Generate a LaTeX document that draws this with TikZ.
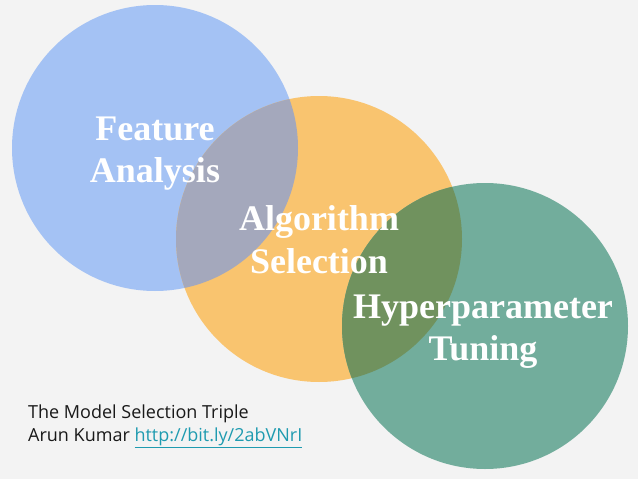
\documentclass[tikz,border=0pt]{standalone}
\usepackage{fontspec}
\setmainfont{Liberation Serif}
\newfontfamily\captionfont{Open Sans}
\definecolor{bgc}{HTML}{F3F3F3}
\definecolor{bluec}{HTML}{A4C2F4}
\definecolor{orangec}{HTML}{F9C46F}
\definecolor{greenc}{HTML}{72AD9C}
\definecolor{boc}{HTML}{A4A8BC}
\definecolor{ogc}{HTML}{70925E}
\definecolor{linkc}{HTML}{1F9BB0}
\tikzset{
  bigtext/.style={text=white,font=\fontsize{36}{40}\selectfont\bfseries,anchor=base,inner sep=0pt},
  captext/.style={text=black!90,font=\captionfont\fontsize{18}{21}\selectfont,anchor=base west,inner sep=0pt}
}
\begin{document}
\begin{tikzpicture}[x=1pt,y=-1pt]
\fill[bgc] (0,0) rectangle (638,479);
\useasboundingbox (0,0) rectangle (638,479);
\def\cA{(155,148) circle[radius=143pt]}
\def\cB{(319,239) circle[radius=143pt]}
\def\cC{(485,326) circle[radius=143pt]}
\fill[bluec] \cA;
\fill[orangec] \cB;
\begin{scope}
  \clip \cA;
  \fill[boc] \cB;
\end{scope}
\fill[greenc] \cC;
\begin{scope}
  \clip \cB;
  \fill[ogc] \cC;
\end{scope}
\node[bigtext] (fa1) at (155,140) {Feature};
\node[bigtext] (fa2) at (155,182) {Analysis};
\node[bigtext] (as1) at (319,230) {Algorithm};
\node[bigtext] (as2) at (319,273) {Selection};
\node[bigtext] (ht1) at (483,318) {Hyperparameter};
\node[bigtext] (ht2) at (483,360) {Tuning};
\node[captext] (cap1) at (28,418) {The Model Selection Triple};
\node[captext] (cap2) at (28,441) {Arun Kumar \textcolor{linkc}{\underline{http://bit.ly/2abVNrI}}};
\end{tikzpicture}
\end{document}
